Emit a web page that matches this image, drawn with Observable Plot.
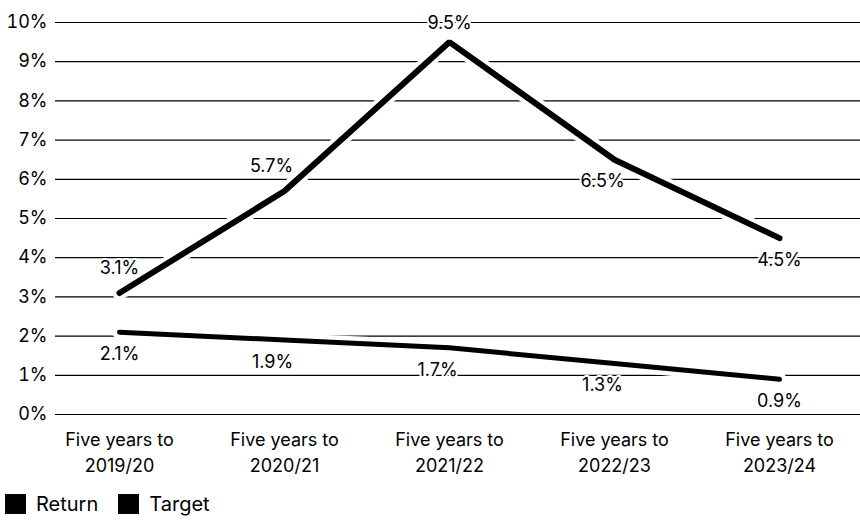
<!DOCTYPE html>
<html>
<head>
<meta charset="utf-8">
<script src="https://cdn.jsdelivr.net/npm/d3@7"></script>
<script src="https://cdn.jsdelivr.net/npm/@observablehq/plot@0.6"></script>
<style>
  html, body { margin: 0; padding: 0; background: #fff; }
  body { width: 860px; height: 520px; overflow: hidden; font-family: Inter, Lato, sans-serif; color: #000; }
  #chart svg { display: block; }
  #legend { display: flex; gap: 20px; margin-left: 5px; margin-top: 8px; font-size: 20px; line-height: 24px; align-items: center; }
  #legend span.item { display: flex; align-items: center; gap: 10px; }
  #legend span.sw { width: 21px; height: 20px; background: #000; display: inline-block; }
</style>
</head>
<body>
<div id="chart"></div>
<div id="legend"></div>
<script>
const categories = ["Five years to\n2019/20", "Five years to\n2020/21", "Five years to\n2021/22", "Five years to\n2022/23", "Five years to\n2023/24"];
const returnValues = [3.1, 5.7, 9.5, 6.5, 4.5];
const targetValues = [2.1, 1.9, 1.7, 1.3, 0.9];
const yTicks = [0, 1, 2, 3, 4, 5, 6, 7, 8, 9, 10];
const seriesNames = ["Return", "Target"];

const data = [];
categories.forEach((c, i) => {
  const prev = i > 0 ? returnValues[i - 1] : -Infinity;
  const isPeak = i > 0 && i < categories.length - 1 && returnValues[i] > returnValues[i - 1] && returnValues[i] > returnValues[i + 1];
  const interior = i > 0 && i < categories.length - 1 && !isPeak;
  data.push({series: "Return", cat: c, value: returnValues[i], above: returnValues[i] >= prev, interior, peak: isPeak});
});
categories.forEach((c, i) => {
  const interior = i > 0 && i < categories.length - 1;
  data.push({series: "Target", cat: c, value: targetValues[i], above: false, interior, peak: false});
});
const ret = data.filter(d => d.series === "Return");
const tgt = data.filter(d => d.series === "Target");

const font = "Inter, Lato, sans-serif";
const fs = 18;
const label = d => d.value.toFixed(1) + "%";
const textOpts = {x: "cat", y: "value", text: label, fontSize: fs, fill: "#000", stroke: "#fff", strokeWidth: 4};
const chart = Plot.plot({
  width: 860,
  height: 484,
  marginLeft: 55,
  marginRight: 0,
  marginTop: 22,
  marginBottom: 70,
  style: {fontFamily: font, fontSize: fs + "px", color: "#000", background: "#fff"},
  x: {type: "point", domain: categories, padding: 0, insetLeft: 63, insetRight: 80, label: null},
  y: {domain: [0, 10], label: null},
  marks: [
    Plot.ruleY(yTicks, {stroke: "#000", strokeWidth: 1.2}),
    Plot.line(tgt, {x: "cat", y: "value", stroke: "#fff", strokeWidth: 14, strokeLinecap: "round"}),
    Plot.line(tgt, {x: "cat", y: "value", stroke: "#000", strokeWidth: 5, strokeLinecap: "round"}),
    Plot.line(ret, {x: "cat", y: "value", stroke: "#fff", strokeWidth: 14, strokeLinecap: "round"}),
    Plot.line(ret, {x: "cat", y: "value", stroke: "#000", strokeWidth: 6, strokeLinecap: "round", strokeLinejoin: "miter"}),
    Plot.text(data.filter(d => d.peak), {...textOpts, dy: -19}),
    Plot.text(data.filter(d => d.above && !d.peak && !d.interior), {...textOpts, dy: -25}),
    Plot.text(data.filter(d => d.above && !d.peak && d.interior), {...textOpts, dy: -25, dx: -13}),
    Plot.text(data.filter(d => !d.above && !d.interior), {...textOpts, dy: 22}),
    Plot.text(data.filter(d => !d.above && d.interior), {...textOpts, dy: 22, dx: -12}),
    Plot.axisX({tickSize: 0, tickPadding: 14, fontSize: fs, lineHeight: 1.4}),
    Plot.axisY({ticks: yTicks, tickSize: 0, tickPadding: 8, fontSize: fs, tickFormat: d => d + "%"})
  ]
});
document.getElementById("chart").appendChild(chart);

const legend = document.getElementById("legend");
seriesNames.forEach(n => {
  const item = document.createElement("span");
  item.className = "item";
  const sw = document.createElement("span");
  sw.className = "sw";
  item.appendChild(sw);
  item.appendChild(document.createTextNode(n));
  legend.appendChild(item);
});
</script>
</body>
</html>
